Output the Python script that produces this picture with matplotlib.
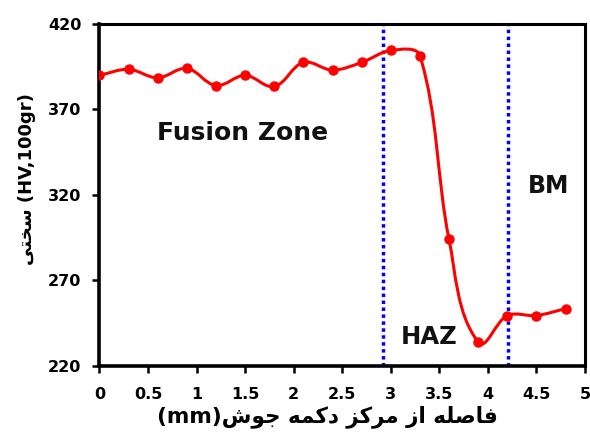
import numpy as np
import matplotlib
matplotlib.use("Agg")
import matplotlib.pyplot as plt
from matplotlib.path import Path
from matplotlib.patches import PathPatch

# ---- data ----
distance_mm = [0.0, 0.3, 0.6, 0.9, 1.2, 1.5, 1.8, 2.1, 2.4, 2.7, 3.0, 3.3, 3.6, 3.9, 4.2, 4.5, 4.8]
hardness_hv = [390, 393.5, 388.5, 394, 384, 390, 383.5, 397.5, 393, 397.5, 404.5, 401.5, 294, 234, 249.5, 249.5, 253.5]
boundaries_mm = [2.92, 4.21]
x_ticks = [0, 0.5, 1, 1.5, 2, 2.5, 3, 3.5, 4, 4.5, 5]
x_tick_labels = ["0", "0.5", "1", "1.5", "2", "2.5", "3", "3.5", "4", "4.5", "5"]
y_ticks = [220, 270, 320, 370, 420]
zone_labels = ["Fusion Zone", "HAZ", "BM"]
zone_pos = [(0.59, 356), (3.40, 237), (4.62, 325)]
zone_sizes = [18, 17.5, 17]

# Persian labels written in visual order with Arabic presentation forms
word_fasele = "\uFEEA\uFEE0\uFEBB\uFE8E\uFED3"   # فاصله
word_az = "\uFEAF\uFE8D"                          # از
word_markaz = "\uFEB0\uFB90\uFEAE\uFEE3"          # مرکز
word_dokme = "\uFEEA\uFEE4\uFB90\uFEA9"           # دکمه
word_jush = "\uFEB5\uFEEE\uFE9F"                  # جوش
word_sakhti = "\uFBFD\uFE98\uFEA8\uFEB3"          # سختی
x_label = "(mm)" + word_jush + " " + word_dokme + " " + word_markaz + " " + word_az + " " + word_fasele
y_label = word_sakhti + " (HV,100gr)"

fam = ["DejaVu Sans"]

fig = plt.figure(figsize=(5.9, 4.36), dpi=100)
ax = fig.add_axes([0.1686, 0.1606, 0.8229, 0.7844])
ax.set_xlim(0, 5.0)
ax.set_ylim(220, 420)

# smooth line (Excel-like bezier), control points computed in display space
pts = ax.transData.transform(np.column_stack([distance_mm, hardness_hv]))
n = len(pts)
tang = []
for i in range(n):
    a = pts[max(i - 1, 0)]
    b = pts[min(i + 1, n - 1)]
    d = b - a
    tang.append(d / np.hypot(*d))
verts = [pts[0]]
codes = [Path.MOVETO]
for i in range(n - 1):
    L = np.hypot(*(pts[i + 1] - pts[i]))
    c1 = pts[i] + tang[i] * L / 3.0
    c2 = pts[i + 1] - tang[i + 1] * L / 3.0
    verts += [c1, c2, pts[i + 1]]
    codes += [Path.CURVE4] * 3
verts_data = ax.transData.inverted().transform(np.array(verts))
patch = PathPatch(Path(verts_data, codes), facecolor="none", edgecolor="#FF0000",
                  lw=2.2, zorder=3, capstyle="round", joinstyle="round")
ax.add_patch(patch)
ax.plot(distance_mm, hardness_hv, "o", color="#FF0000", ms=6.5, zorder=4)

for b in boundaries_mm:
    ax.axvline(b, color="#0000FF", lw=2.5, linestyle=(0, (1, 1)), zorder=2)

for lab, (tx, ty), fs in zip(zone_labels, zone_pos, zone_sizes):
    ha = "left" if lab == "Fusion Zone" else "center"
    ax.text(tx, ty, lab, ha=ha, va="center", fontsize=fs, fontweight="bold",
            family=fam, color="#111111")

ax.set_xticks(x_ticks)
ax.set_xticklabels(x_tick_labels)
ax.set_yticks(y_ticks)
for lab in ax.get_xticklabels() + ax.get_yticklabels():
    lab.set_family(fam)
    lab.set_fontweight("bold")
    lab.set_fontsize(11.5)
ax.tick_params(axis="both", direction="out", length=5, width=1.8, color="black")
ax.tick_params(axis="x", pad=10)
ax.tick_params(axis="y", pad=8)

for s in ax.spines.values():
    s.set_linewidth(2.2)
    s.set_color("black")
ax.spines["left"].set_linewidth(2.6)
ax.spines["bottom"].set_linewidth(2.6)

ax.set_xlabel(x_label, fontsize=15.5, fontweight="bold", family=fam)
ax.set_ylabel(y_label, fontsize=13, fontweight="bold", family=fam)
ax.xaxis.set_label_coords(0.469, -0.115)
ax.yaxis.set_label_coords(-0.13, 0.547)

fig.savefig("out.png", dpi=100, facecolor="white")
